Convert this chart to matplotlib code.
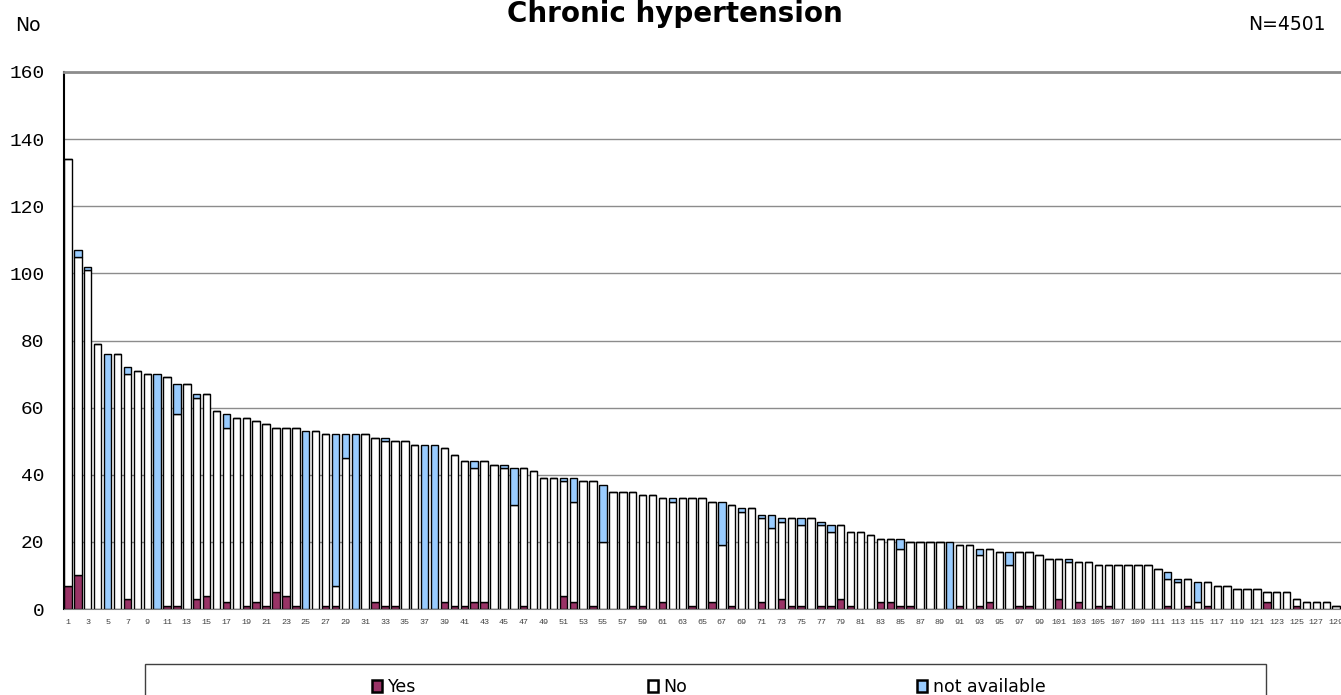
import numpy as np
import matplotlib
matplotlib.use('Agg')
import matplotlib.pyplot as plt
from matplotlib.patches import Rectangle

# datos por centro (ordenados por total)
si = [7, 10, 0, 0, 0, 0, 3, 0, 0, 0,
      1, 1, 0, 3, 4, 0, 2, 0, 1, 2,
      1, 5, 4, 1, 0, 0, 1, 1, 0, 0,
      0, 2, 1, 1, 0, 0, 0, 0, 2, 1,
      1, 2, 2, 0, 0, 0, 1, 0, 0, 0,
      4, 2, 0, 1, 0, 0, 0, 1, 1, 0,
      2, 0, 0, 1, 0, 2, 0, 1, 0, 0,
      2, 0, 3, 1, 1, 0, 1, 1, 3, 1,
      0, 0, 2, 2, 1, 1, 0, 0, 0, 0,
      1, 0, 1, 2, 0, 0, 1, 1, 0, 0,
      3, 0, 2, 0, 1, 1, 0, 0, 0, 0,
      0, 1, 0, 1, 0, 1, 0, 0, 0, 0,
      0, 2, 0, 0, 1, 0, 0, 0, 0, 0]
no = [127, 95, 101, 79, 0, 76, 67, 71, 70, 0,
      68, 57, 67, 60, 60, 59, 52, 57, 56, 54,
      54, 49, 50, 53, 0, 53, 51, 6, 45, 0,
      52, 49, 49, 49, 50, 49, 0, 0, 46, 45,
      43, 40, 42, 43, 42, 31, 41, 41, 39, 39,
      34, 30, 38, 37, 20, 35, 35, 34, 33, 34,
      31, 32, 33, 32, 33, 30, 19, 30, 29, 30,
      25, 24, 23, 26, 24, 27, 24, 22, 22, 22,
      23, 22, 19, 19, 17, 19, 20, 20, 20, 0,
      18, 19, 15, 16, 17, 13, 16, 16, 16, 15,
      12, 14, 12, 14, 12, 12, 13, 13, 13, 13,
      12, 8, 8, 8, 2, 7, 7, 7, 6, 6,
      6, 3, 5, 5, 2, 2, 2, 2, 1, 1]
nd = [0, 2, 1, 0, 76, 0, 2, 0, 0, 70,
      0, 9, 0, 1, 0, 0, 4, 0, 0, 0,
      0, 0, 0, 0, 53, 0, 0, 45, 7, 52,
      0, 0, 1, 0, 0, 0, 49, 49, 0, 0,
      0, 2, 0, 0, 1, 11, 0, 0, 0, 0,
      1, 7, 0, 0, 17, 0, 0, 0, 0, 0,
      0, 1, 0, 0, 0, 0, 13, 0, 1, 0,
      1, 4, 1, 0, 2, 0, 1, 2, 0, 0,
      0, 0, 0, 0, 3, 0, 0, 0, 0, 20,
      0, 0, 2, 0, 0, 4, 0, 0, 0, 0,
      0, 1, 0, 0, 0, 0, 0, 0, 0, 0,
      0, 2, 1, 0, 6, 0, 0, 0, 0, 0,
      0, 0, 0, 0, 0, 0, 0, 0, 0, 0]
centros = np.arange(1, len(si) + 1)
etiquetas = ['Yes', 'No', 'not available']
total_n = 4501

col_si = '#993366'
col_no = '#ffffff'
col_nd = '#99ccff'

fig = plt.figure(figsize=(13.41, 6.95), dpi=100, facecolor='white')
# eje mas ancho que la figura: la ultima barra queda cortada
ax = fig.add_axes([64 / 1341, 86 / 695, 1287 / 1341, 537 / 695])

si_a = np.array(si)
no_a = np.array(no)
nd_a = np.array(nd)
b1 = ax.bar(centros, si_a, width=0.75, color=col_si, edgecolor='black', linewidth=1.0, label=etiquetas[0])
b2 = ax.bar(centros, no_a, width=0.75, bottom=si_a, color=col_no, edgecolor='black', linewidth=1.0, label=etiquetas[1])
b3 = ax.bar(centros, nd_a, width=0.75, bottom=si_a + no_a, color=col_nd, edgecolor='black', linewidth=1.0, label=etiquetas[2])

ax.set_xlim(0.6, 130.5)
ax.set_ylim(0, 160)
ax.set_yticks(range(0, 161, 20))
ax.yaxis.grid(True, color='#8c8c8c', linewidth=1.0)
ax.set_axisbelow(True)
ax.tick_params(axis='y', length=0, pad=14, labelsize=14)
for t in ax.get_yticklabels():
    t.set_family('Liberation Mono')

ax.set_xticks(centros[::2])
ax.set_xticklabels([str(v) for v in centros[::2]], family='Liberation Mono', fontsize=6, color='#404040')
ax.tick_params(axis='x', length=0, pad=7)

ax.spines['right'].set_visible(False)
ax.spines['top'].set_color('#8c8c8c')
ax.spines['top'].set_linewidth(2)
ax.spines['left'].set_color('black')
ax.spines['left'].set_linewidth(1.5)
ax.spines['bottom'].set_color('#808080')

# textos de cabecera
fig.text(0.503, 1 - 22 / 695, 'Chronic hypertension', ha='center', va='baseline',
         fontsize=20, fontweight='bold', family='DejaVu Sans')
fig.text(15 / 1341, 1 - 31 / 695, 'No', ha='left', va='baseline', fontsize=13.5)
fig.text(1326 / 1341, 1 - 30 / 695, 'N=' + str(total_n), ha='right', va='baseline', fontsize=13.5)

# leyenda: caja y tres entradas sueltas
fig.patches.append(Rectangle((145 / 1341, -0.1), (1266 - 145) / 1341, 0.1 + 31 / 695,
                             transform=fig.transFigure, fill=False, edgecolor='#404040', linewidth=1))
pos_ley = [372, 648, 917]
for h, lab, px in zip([b1, b2, b3], etiquetas, pos_ley):
    lg = fig.legend([h], [lab], loc='center left', bbox_to_anchor=(px / 1341, 1 - 687 / 695),
                    frameon=False, fontsize=12.5, handlelength=0.6, handleheight=0.75,
                    handletextpad=0.3, borderpad=0, borderaxespad=0)
    for p in lg.get_patches():
        p.set_linewidth(1.8)

fig.savefig('out.png', dpi=100)
